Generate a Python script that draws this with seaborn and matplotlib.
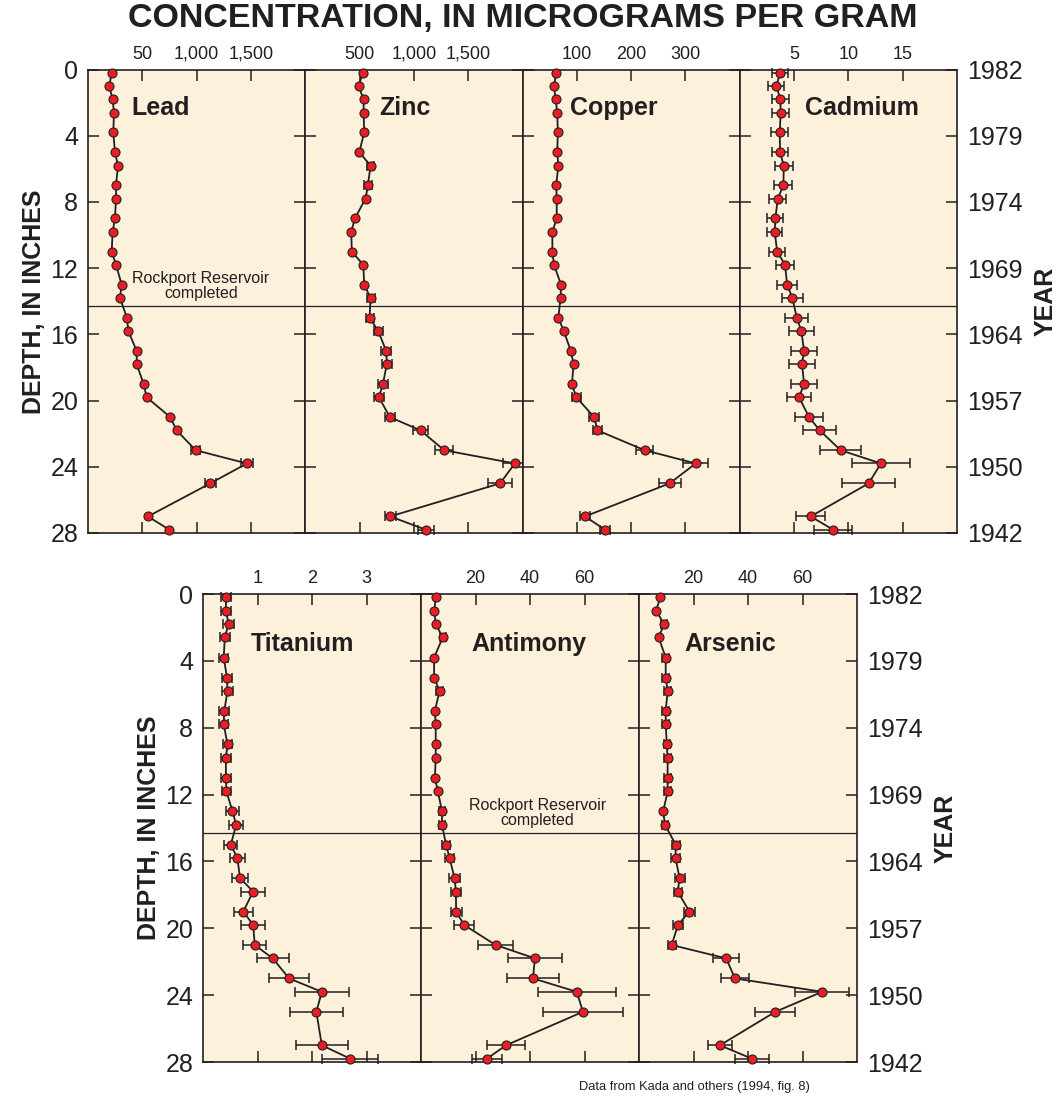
#!/usr/bin/env python3
# -*- coding: utf-8 -*-
"""
Trace-metal profiles in a sediment core (Rockport Reservoir area).

Seven depth profiles (concentration vs. depth) drawn in two rows of
panels that share a depth axis, with the sample year on the right.
"""

import matplotlib
matplotlib.use('Agg')
import numpy as np
import pandas as pd
import matplotlib.pyplot as plt
import seaborn as sns

# sample depths in inches (same samples for every element)
DEPTH = [0.2, 1.0, 1.8, 2.6, 3.8, 5.0, 5.8, 7.0, 7.8, 9.0, 9.8, 11.0, 11.8, 13.0,
         13.8, 15.0, 15.8, 17.0, 17.8, 19.0, 19.8, 21.0, 21.8, 23.0, 23.8, 25.0,
         27.0, 27.8]

# concentrations (micrograms per gram) and +/- error, 0 = no bar drawn
LEAD = [218, 196, 227, 239, 233, 248, 276, 258, 258, 248, 227, 218, 258, 310,
        294, 359, 371, 448, 448, 512, 540, 757, 816, 991, 1463, 1126, 552, 748]
LEAD_ERR = [0] * 23 + [43, 58, 49, 0, 0]

ZINC = [531, 491, 537, 537, 543, 497, 601, 577, 555, 457, 423, 429, 534, 543,
        601, 592, 672, 745, 751, 715, 678, 779, 1061, 1279, 1929, 1794, 782, 1110]
ZINC_ERR = [0, 0, 0, 0, 0, 0, 34, 37, 0, 0, 0, 0, 0, 0,
            37, 37, 43, 46, 46, 46, 43, 49, 67, 80, 107, 110, 52, 74]

COPPER = [62, 58, 61, 64, 65, 64, 66, 62, 63, 63, 55, 55, 58, 71,
          70, 66, 76, 89, 94, 91, 99, 132, 138, 225, 319, 271, 115, 152]
COPPER_ERR = [0] * 20 + [8, 9, 9, 16, 23, 20, 9, 10]

CADMIUM = [3.71, 3.37, 3.74, 3.77, 3.68, 3.71, 4.05, 4.02, 3.50, 3.28, 3.22, 3.44,
           4.17, 4.36, 4.85, 5.25, 5.67, 5.92, 5.74, 5.92, 5.46, 6.38, 7.36, 9.29,
           13.0, 11.87, 6.53, 8.59]
CADMIUM_ERR = [0.71, 0.74, 0.77, 0.77, 0.80, 0.77, 0.83, 0.83, 0.77, 0.74, 0.71, 0.77,
               0.86, 0.92, 0.98, 1.07, 1.17, 1.23, 1.17, 1.23, 1.13, 1.29, 1.50, 1.90,
               2.64, 2.45, 1.32, 1.75]

TITANIUM = [0.42, 0.42, 0.47, 0.40, 0.38, 0.44, 0.45, 0.39, 0.38, 0.45, 0.42, 0.42,
            0.43, 0.54, 0.61, 0.51, 0.63, 0.68, 0.92, 0.74, 0.92, 0.95, 1.28, 1.58,
            2.18, 2.08, 2.18, 2.70]
TITANIUM_ERR = [0.09, 0.09, 0.10, 0.09, 0.08, 0.09, 0.10, 0.09, 0.08, 0.09, 0.09, 0.09,
                0.09, 0.12, 0.13, 0.12, 0.14, 0.15, 0.22, 0.18, 0.22, 0.21, 0.29, 0.37,
                0.49, 0.48, 0.48, 0.51]

ANTIMONY = [5.4, 4.9, 5.4, 8.0, 4.8, 4.8, 6.8, 5.1, 5.4, 5.4, 5.4, 5.1, 6.2, 7.7,
            7.7, 9.2, 10.5, 12.3, 12.8, 12.9, 15.8, 27.4, 41.8, 41.1, 57.2, 59.4,
            31.2, 24.2]
ANTIMONY_ERR = [0, 0, 0, 1.2, 0, 0, 1.2, 0, 0, 0, 0, 0, 0, 1.2,
                1.2, 1.5, 1.7, 2.0, 1.8, 2.0, 3.7, 6.5, 9.8, 9.5, 14.2, 14.6, 6.9, 5.4]

ARSENIC = [7.8, 6.3, 9.2, 7.2, 9.8, 9.8, 10.5, 9.8, 9.8, 10.2, 10.5, 10.5, 10.5, 8.9,
           9.5, 13.5, 13.4, 14.9, 14.2, 18.5, 14.3, 12.0, 32.0, 35.2, 67.2, 50.0,
           29.7, 41.4]
ARSENIC_ERR = [0, 0, 1.2, 0, 1.2, 1.2, 1.2, 1.2, 1.2, 1.2, 1.2, 1.2, 1.2, 0,
               1.2, 1.5, 1.5, 1.8, 1.5, 2.0, 1.7, 1.5, 4.8, 5.2, 9.8, 7.4, 4.3, 6.2]

# axis annotations
DEPTH_TICKS = [0, 4, 8, 12, 16, 20, 24, 28]
YEARS = ['1982', '1979', '1974', '1969', '1964', '1957', '1950', '1942']
RESERVOIR_DEPTH = 14.3

LEAD_TICKS, LEAD_LABELS = [500, 1000, 1500], ['50', '1,000', '1,500']
ZINC_TICKS, ZINC_LABELS = [500, 1000, 1500], ['500', '1,000', '1,500']
COPPER_TICKS, COPPER_LABELS = [100, 200, 300], ['100', '200', '300']
CADMIUM_TICKS, CADMIUM_LABELS = [5, 10, 15], ['5', '10', '15']
TITANIUM_TICKS, TITANIUM_LABELS = [1, 2, 3], ['1', '2', '3']
ANTIMONY_TICKS, ANTIMONY_LABELS = [20, 40, 60], ['20', '40', '60']
ARSENIC_TICKS, ARSENIC_LABELS = [20, 40, 60], ['20', '40', '60']

INK = '#231f20'
CREAM = '#fdf1dc'
RED = '#ea1d25'
FONT = ['Liberation Sans', 'DejaVu Sans']


def draw_panel(ax, name, values, errors, xmax, ticks, ticklabels,
               title_x, title_y, first=False, last=False):
    """Draw one concentration-depth profile into ax"""
    df = pd.DataFrame({'depth': DEPTH, 'conc': values, 'err': errors})
    bars = df[df['err'] > 0]

    ax.set_facecolor(CREAM)
    ax.errorbar(bars['conc'], bars['depth'], xerr=bars['err'], fmt='none',
                ecolor=INK, elinewidth=1.1, capsize=3.6, capthick=1.1,
                zorder=3, clip_on=False)
    sns.lineplot(data=df, x='conc', y='depth', orient='y', sort=False,
                 estimator=None, ax=ax, color=INK, linewidth=1.3,
                 marker='o', markersize=6.5, markerfacecolor=RED,
                 markeredgecolor=INK, markeredgewidth=0.8,
                 zorder=4, clip_on=False)

    ax.axhline(RESERVOIR_DEPTH, color=INK, lw=0.9, zorder=2)

    ax.set_xlim(0, xmax)
    ax.set_ylim(28, 0)
    ax.set_xlabel('')
    ax.set_ylabel('')

    ax.set_xticks(ticks, ticklabels)
    ax.tick_params(axis='x', direction='in', top=True, bottom=True,
                   labeltop=True, labelbottom=False, length=8, width=1.1,
                   pad=5, labelsize=13, colors=INK)
    ax.set_yticks(DEPTH_TICKS)
    ax.tick_params(axis='y', direction='in', left=True, right=True,
                   labelleft=first, labelright=False, length=8, width=1.1,
                   pad=7, labelsize=18, colors=INK)

    for side in ['top', 'bottom', 'left', 'right']:
        ax.spines[side].set_visible(True)
        ax.spines[side].set_color(INK)
        ax.spines[side].set_linewidth(1.2)

    ax.text(title_x, title_y, name, transform=ax.get_yaxis_transform(),
            fontsize=18, fontweight='bold', color=INK, va='center', ha='left')

    if first:
        ax.set_ylabel('DEPTH, IN INCHES', fontsize=18, fontweight='bold',
                      color=INK, labelpad=3)
    if last:
        yr = ax.twinx()
        yr.set_ylim(28, 0)
        yr.set_yticks(DEPTH_TICKS, YEARS)
        yr.tick_params(axis='y', direction='in', length=8, width=1.1, pad=7,
                       labelsize=18, colors=INK)
        yr.set_ylabel('YEAR', fontsize=18, fontweight='bold', color=INK,
                      labelpad=8)
        for side in ['top', 'bottom', 'left', 'right']:
            yr.spines[side].set_visible(False)


def reservoir_note(ax, x):
    ax.text(x, RESERVOIR_DEPTH - 0.3, 'Rockport Reservoir\ncompleted',
            fontsize=11.5, color=INK, ha='center', va='bottom',
            linespacing=1.0)


def main():
    sns.set_style('ticks')
    plt.rcParams['font.family'] = FONT

    fig = plt.figure(figsize=(10.62, 10.99), dpi=100)

    # top row: lead, zinc, copper, cadmium
    W, H = 1062.0, 1099.0
    top_left, top_w = 88 / W, 217.25 / W
    top_bot, top_h = 1 - 533 / H, (533 - 69.5) / H
    top_specs = [
        ('Lead', LEAD, LEAD_ERR, 2000, LEAD_TICKS, LEAD_LABELS, 0.20),
        ('Zinc', ZINC, ZINC_ERR, 2000, ZINC_TICKS, ZINC_LABELS, 0.34),
        ('Copper', COPPER, COPPER_ERR, 400, COPPER_TICKS, COPPER_LABELS, 0.22),
        ('Cadmium', CADMIUM, CADMIUM_ERR, 20, CADMIUM_TICKS, CADMIUM_LABELS, 0.30),
    ]
    top_axes = []
    for i, (name, vals, errs, xmax, ticks, labels, tx) in enumerate(top_specs):
        ax = fig.add_axes([top_left + i * top_w, top_bot, top_w, top_h])
        draw_panel(ax, name, vals, errs, xmax, ticks, labels, tx, 2.3,
                   first=(i == 0), last=(i == len(top_specs) - 1))
        top_axes.append(ax)
    reservoir_note(top_axes[0], 1040)

    # bottom row: titanium, antimony, arsenic
    bot_left, bot_w = 203 / W, 218 / W
    bot_bot, bot_h = 1 - 1062 / H, (1062 - 594) / H
    bot_specs = [
        ('Titanium', TITANIUM, TITANIUM_ERR, 4, TITANIUM_TICKS, TITANIUM_LABELS, 0.22),
        ('Antimony', ANTIMONY, ANTIMONY_ERR, 80, ANTIMONY_TICKS, ANTIMONY_LABELS, 0.23),
        ('Arsenic', ARSENIC, ARSENIC_ERR, 80, ARSENIC_TICKS, ARSENIC_LABELS, 0.21),
    ]
    bot_axes = []
    for i, (name, vals, errs, xmax, ticks, labels, tx) in enumerate(bot_specs):
        ax = fig.add_axes([bot_left + i * bot_w, bot_bot, bot_w, bot_h])
        draw_panel(ax, name, vals, errs, xmax, ticks, labels, tx, 3.0,
                   first=(i == 0), last=(i == len(bot_specs) - 1))
        bot_axes.append(ax)
    reservoir_note(bot_axes[1], 42.8)

    fig.text(522.5 / W, 1 - 19 / H, 'CONCENTRATION, IN MICROGRAMS PER GRAM',
             fontsize=24.5, fontweight='bold', color=INK, ha='center', va='center')
    fig.text(694 / W, 1 - 1087 / H, 'Data from Kada and others (1994, fig. 8)',
             fontsize=9.3, color=INK, ha='center', va='center')

    fig.savefig('out.png', dpi=100)
    plt.close(fig)


if __name__ == '__main__':
    main()
